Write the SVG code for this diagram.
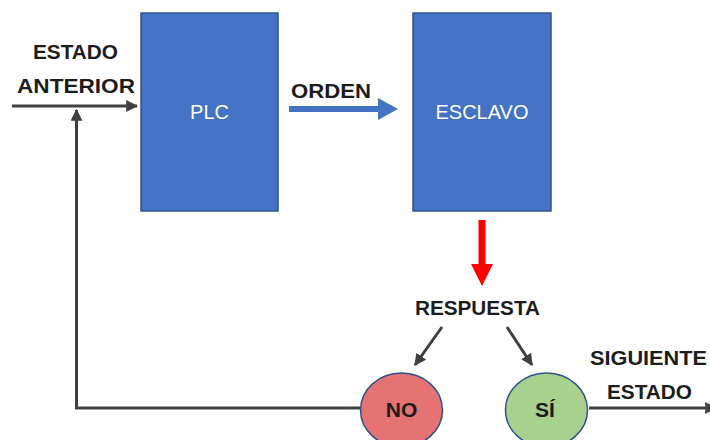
<svg xmlns="http://www.w3.org/2000/svg" width="710" height="440" viewBox="0 0 710 440">
  <style>
    .lbl { font-family: "Liberation Sans", Arial, sans-serif; font-weight: bold; font-size: 21px; fill: #1c1c1c; }
    .box { fill: #4472C4; stroke: #2F528F; stroke-width: 1.5; }
    .boxtxt { font-family: "Liberation Sans", Arial, sans-serif; font-size: 20px; fill: #ffffff; text-anchor: middle; }
    .wire { fill: none; stroke: #404040; stroke-width: 3; }
    .circ { stroke: #2F528F; stroke-width: 1.5; }
  </style>
  <defs>
    <marker id="dark" viewBox="0 0 10 10" refX="9" refY="5" markerWidth="4" markerHeight="4" orient="auto" markerUnits="strokeWidth">
      <path d="M0,0 L10,5 L0,10 Z" fill="#404040"/>
    </marker>
  </defs>

  <rect width="710" height="440" fill="#ffffff"/>

  <!-- connectors -->
  <g id="connectors">
    <!-- input to PLC -->
    <line class="wire" x1="12" y1="106" x2="137" y2="106" marker-end="url(#dark)"/>
    <!-- feedback from NO back to the input -->
    <path class="wire" d="M361,408 H76.5 V110" marker-end="url(#dark)"/>
    <!-- PLC to ESCLAVO (ORDEN) -->
    <g>
      <rect x="289" y="106" width="90" height="6" fill="#4472C4"/>
      <path d="M378,98 L398,109 L378,120 Z" fill="#4472C4"/>
    </g>
    <!-- ESCLAVO to RESPUESTA -->
    <g>
      <rect x="478.5" y="220" width="7" height="46" fill="#FF0000"/>
      <path d="M471,264 L493,264 L482,286 Z" fill="#FF0000"/>
    </g>
    <!-- RESPUESTA branches -->
    <line class="wire" x1="442" y1="327" x2="415" y2="365" marker-end="url(#dark)"/>
    <line class="wire" x1="507" y1="327" x2="532" y2="365" marker-end="url(#dark)"/>
    <!-- SÍ to next state -->
    <line class="wire" x1="589" y1="408" x2="716" y2="408" marker-end="url(#dark)"/>
  </g>

  <!-- labels -->
  <g id="label-anterior">
    <text class="lbl" x="33" y="59" textLength="85" lengthAdjust="spacingAndGlyphs">ESTADO</text>
    <text class="lbl" x="17" y="93" textLength="118" lengthAdjust="spacingAndGlyphs">ANTERIOR</text>
  </g>
  <g id="label-orden">
    <text class="lbl" x="291" y="98" textLength="80" lengthAdjust="spacingAndGlyphs">ORDEN</text>
  </g>
  <g id="label-respuesta">
    <text class="lbl" x="415" y="315" textLength="125" lengthAdjust="spacingAndGlyphs">RESPUESTA</text>
  </g>
  <g id="label-siguiente">
    <text class="lbl" x="590" y="365" textLength="117" lengthAdjust="spacingAndGlyphs">SIGUIENTE</text>
    <text class="lbl" x="607" y="399" textLength="85" lengthAdjust="spacingAndGlyphs">ESTADO</text>
  </g>

  <!-- nodes -->
  <g id="plc">
    <rect class="box" x="141" y="13" width="137" height="198"/>
    <text class="boxtxt" x="209.5" y="119">PLC</text>
  </g>
  <g id="esclavo">
    <rect class="box" x="413" y="13" width="138" height="198"/>
    <text class="boxtxt" x="482" y="119">ESCLAVO</text>
  </g>
  <g id="no">
    <ellipse class="circ" cx="401.5" cy="410" rx="41" ry="37" fill="#E57373"/>
    <text class="lbl" x="401.5" y="417" text-anchor="middle" font-size="20">NO</text>
  </g>
  <g id="si">
    <ellipse class="circ" cx="546.5" cy="410" rx="41" ry="37" fill="#A9D18E"/>
    <text class="lbl" x="545" y="417" text-anchor="middle" font-size="20">SÍ</text>
  </g>
</svg>
